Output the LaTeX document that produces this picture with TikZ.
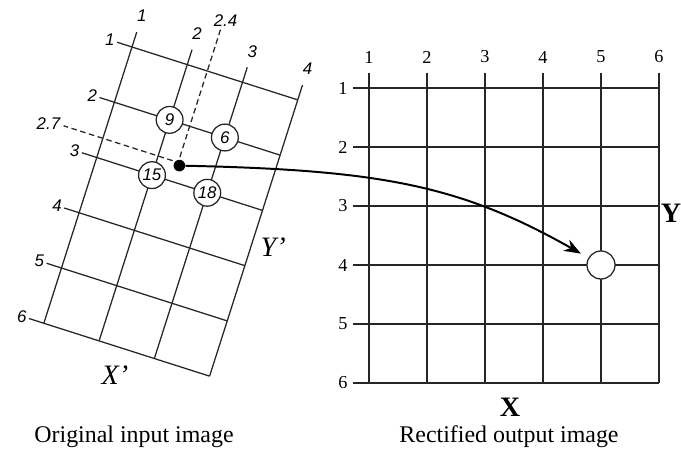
\documentclass[tikz,border=0pt]{standalone}
\usepackage{fontspec}
\setmainfont{Liberation Serif}
\setsansfont{Liberation Sans}
\usetikzlibrary{arrows.meta, positioning}

\begin{document}
\begin{tikzpicture}[
        x=0.025cm, y=0.025cm,
        gridLine/.style={
            black!85,
            line width=0.9pt
        },
        guideLine/.style={
            black!85,
            line width=0.9pt,
            dash pattern=on 4pt off 2.5pt
        },
        skewLabel/.style={
            font=\sffamily\itshape\fontsize{12}{14}\selectfont,
            inner sep=1pt
        },
        flatLabel/.style={
            font=\fontsize{13}{15}\selectfont,
            inner sep=1pt
        },
        cellMark/.style={
            circle,
            draw=black!85,
            fill=white,
            line width=0.9pt,
            minimum size=0.67cm,
            inner sep=0pt,
            font=\sffamily\itshape\fontsize{12}{14}\selectfont
        },
        axisName/.style={
            font=\bfseries\fontsize{20}{22}\selectfont
        },
        skewAxis/.style={
            font=\itshape\fontsize{20}{22}\selectfont
        },
        caption/.style={
            font=\fontsize{17}{20}\selectfont
        },
        mapArrow/.style={
            -{Stealth[length=12pt, width=9pt]},
            line width=1.4pt
        }
    ]
    \useasboundingbox (0,0) rectangle (681,452);

    % Original input image: the grid is turned by about 18 degrees
    \begin{scope}[shift={(132,405)}, rotate=-17.7, scale=58]
        \foreach \c in {1,...,4} {
            \draw[gridLine] (\c-1, 0.27) -- (\c-1, -5);
            \node[skewLabel] (colIn\c) at (\c-1, 0.56) {\c};
        }
        \foreach \r in {1,...,6} {
            \draw[gridLine] (-0.27, 1-\r) -- (3, 1-\r);
            \node[skewLabel] (rowIn\r) at (-0.40, 1-\r) {\r};
        }

        \node[cellMark] (cell9) at (1, -1) {9};
        \node[cellMark] (cell6) at (2, -1) {6};
        \node[cellMark] (cell15) at (1, -2) {15};
        \node[cellMark] (cell18) at (2, -2) {18};

        % sampled point at column 2.4, row 2.7
        \node[circle, fill=black, minimum size=0.29cm, inner sep=0pt] (srcPt) at (1.4, -1.7) {};
        \node[skewLabel] (lab24) at (1.4, 0.92) {2.4};
        \node[skewLabel] (lab27) at (-0.97, -1.7) {2.7};
        \draw[guideLine] (srcPt) -- (lab24);
        \draw[guideLine] (srcPt) -- (lab27);

        \node[skewAxis] (axisYin) at (3.37, -2.55) {Y’};
        \node[skewAxis] (axisXin) at (1.44, -5.48) {X’};
    \end{scope}

    % Rectified output image
    \foreach \c in {1,...,6} {
        \draw[gridLine] ({369+58*(\c-1)}, 69) -- ({369+58*(\c-1)}, 379);
        \node[flatLabel] (colOut\c) at ({369+58*(\c-1)}, 395) {\c};
    }
    \foreach \r in {1,...,6} {
        \draw[gridLine] (353, {364-59*(\r-1)}) -- (659, {364-59*(\r-1)});
        \node[flatLabel] (rowOut\r) at (343, {364-59*(\r-1)}) {\r};
    }
    \node[cellMark, minimum size=0.7cm] (tgtPt) at (601, 187) {};

    \node[axisName] (axisX) at (510, 45) {X};
    \node[axisName] (axisY) at (671, 239) {Y};

    % Mapping of the point onto the output grid
    \draw[mapArrow, shorten >=6pt] (srcPt) .. controls (380, 282) and (460, 267) .. (tgtPt);

    \node[caption] (capIn) at (134, 15) {Original input image};
    \node[caption] (capOut) at (509, 15) {Rectified output image};

\end{tikzpicture}
\end{document}
